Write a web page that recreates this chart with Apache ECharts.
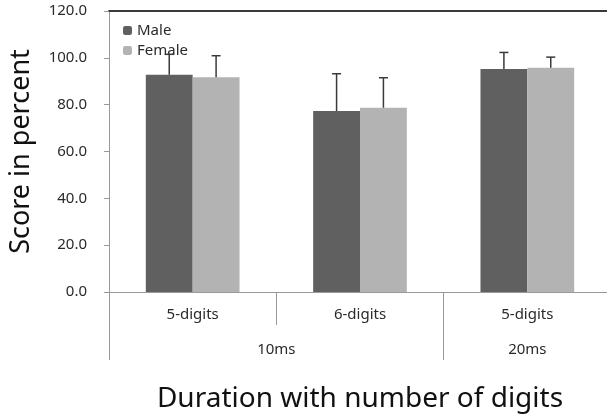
<!DOCTYPE html>
<html>
<head>
<meta charset="utf-8">
<script src="https://cdn.jsdelivr.net/npm/echarts@6/dist/echarts.min.js"></script>
<style>
html,body{margin:0;padding:0;background:#fff;}
#c{width:607px;height:414px;}
</style>
</head>
<body>
<div id="c"></div>
<script>
var categories = ['5-digits', '6-digits', '5-digits'];
var groupLabels = ['10ms', '20ms'];
var groupLabelPos = [1, 2.5];
var groupBounds = [0, 2, 3];
var maleMean = [92.8, 77.3, 95.2];
var maleSD = [8.7, 15.9, 7.1];
var femaleMean = [91.7, 78.7, 95.8];
var femaleSD = [9.2, 12.8, 4.5];
var yTicks = [0, 20, 40, 60, 80, 100, 120];

var FONT = 'Noto Sans';
var chart = echarts.init(document.getElementById('c'));

function errSeries(name, mean, sd, dir) {
  return {
    type: 'custom',
    name: name + ' err',
    xAxisIndex: 0,
    yAxisIndex: 0,
    z: 10,
    silent: true,
    data: mean.map(function (m, i) { return [i, m, m + sd[i]]; }),
    renderItem: function (params, api) {
      var band = api.size([1, 0])[0];
      var off = dir * band * 0.14;
      var base = api.coord([api.value(0), api.value(1)]);
      var top = api.coord([api.value(0), api.value(2)]);
      var x = base[0] + off;
      var style = { stroke: '#3a3a3a', lineWidth: 1.5 };
      return {
        type: 'group',
        children: [
          { type: 'line', shape: { x1: x, y1: base[1], x2: x, y2: top[1] }, style: style },
          { type: 'line', shape: { x1: x - 4.5, y1: top[1], x2: x + 4.5, y2: top[1] }, style: style }
        ]
      };
    }
  };
}

chart.setOption({
  animation: false,
  textStyle: { fontFamily: FONT },
  grid: { left: 109, right: -4, top: 11, bottom: 122, containLabel: false, outerBoundsMode: 'none' },
  legend: {
    orient: 'vertical',
    left: 118,
    top: 18,
    itemWidth: 9,
    itemHeight: 9,
    itemGap: 5,
    data: ['Male', 'Female'],
    textStyle: { fontFamily: FONT, fontSize: 15, color: '#2a2a2a' }
  },
  xAxis: [
    {
      type: 'category',
      data: categories,
      position: 'bottom',
      axisLine: { lineStyle: { color: '#999', width: 1 } },
      axisTick: { show: true, interval: 0, length: 33, lineStyle: { color: '#999' } },
      axisLabel: { interval: 0, margin: 15, fontSize: 15, color: '#2a2a2a', fontFamily: FONT },
      splitLine: { show: false }
    },
    {
      type: 'value',
      min: 0,
      max: 3,
      position: 'bottom',
      axisLine: { show: false },
      axisTick: { show: true, length: 68, customValues: groupBounds, lineStyle: { color: '#999' } },
      axisLabel: {
        customValues: groupLabelPos,
        margin: 50,
        fontSize: 15,
        color: '#2a2a2a',
        fontFamily: FONT,
        formatter: function (v) {
          var i = groupLabelPos.indexOf(v);
          return i >= 0 ? groupLabels[i] : '';
        }
      },
      splitLine: { show: false },
      name: 'Duration with number of digits',
      nameLocation: 'middle',
      nameGap: 93,
      nameTextStyle: { fontSize: 28, color: '#111', fontFamily: FONT }
    },
    {
      type: 'value',
      min: 0,
      max: 3,
      position: 'top',
      axisLine: { show: true, lineStyle: { color: '#3a3a3a', width: 2 } },
      axisTick: { show: false },
      axisLabel: { show: false },
      splitLine: { show: false }
    }
  ],
  yAxis: {
    type: 'value',
    min: 0,
    max: 120,
    interval: 20,
    axisLine: { show: true, lineStyle: { color: '#999' } },
    axisTick: { show: true, length: 5, lineStyle: { color: '#999' } },
    axisLabel: {
      margin: 22,
      fontSize: 15,
      color: '#2a2a2a',
      fontFamily: FONT,
      customValues: yTicks,
      formatter: function (v) { return v.toFixed(1); }
    },
    splitLine: { show: false },
    name: 'Score in percent',
    nameLocation: 'middle',
    nameRotate: 90,
    nameGap: 74,
    nameTextStyle: { fontSize: 27, color: '#111', fontFamily: FONT }
  },
  series: [
    {
      name: 'Male',
      type: 'bar',
      data: maleMean,
      barWidth: '28%',
      barGap: '0%',
      itemStyle: { color: '#606060' }
    },
    {
      name: 'Female',
      type: 'bar',
      data: femaleMean,
      barWidth: '28%',
      barGap: '0%',
      itemStyle: { color: '#b3b3b3' }
    },
    errSeries('Male', maleMean, maleSD, -1),
    errSeries('Female', femaleMean, femaleSD, 1)
  ]
});
</script>
</body>
</html>
